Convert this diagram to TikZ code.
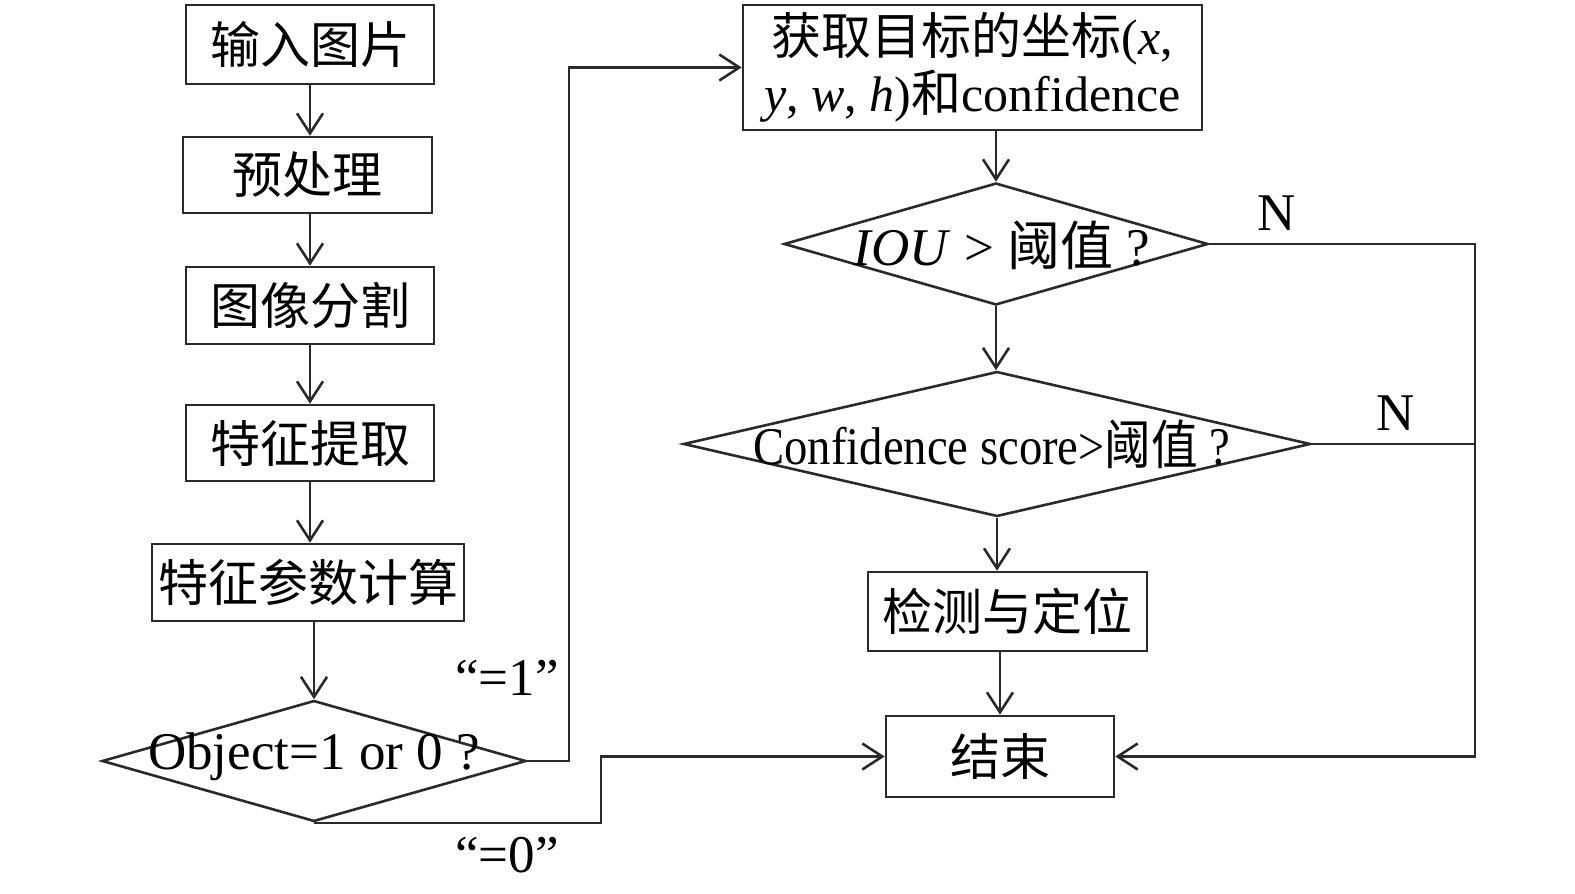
\documentclass[tikz,border=0pt]{standalone}
\usepackage{fontspec}
\usepackage{graphicx}
\setmainfont{Liberation Serif}
\newfontfamily\cjk{Noto Sans CJK SC}
\usetikzlibrary{shapes.geometric,arrows.meta,calc}
\definecolor{linec}{HTML}{2A2A2A}
\tikzset{
  every node/.style={font=\fontsize{50}{57}\selectfont, inner sep=0pt},
  big/.style={font=\fontsize{53}{60}\selectfont},
  box/.style={draw=linec, line width=2.6pt, rectangle, align=center},
  dia/.style={draw=linec, line width=2.6pt, diamond, aspect=1},
  conn/.style={draw=linec, line width=2.6pt, -{Straight Barb[length=20pt,width=26pt,line width=2.6pt]}},
  plain/.style={draw=linec, line width=2.6pt},
}
\begin{document}
\begin{tikzpicture}[x=1pt,y=-1pt]
\useasboundingbox (0,0) rectangle (1575,894);
% left column
\node[box, minimum width=248pt, minimum height=79pt] (in) at (310,44.5) {\cjk 输入图片};
\node[box, minimum width=249pt, minimum height=76pt] (pre) at (307.5,175) {\cjk 预处理};
\node[box, minimum width=248pt, minimum height=77pt] (seg) at (310,305.5) {\cjk 图像分割};
\node[box, minimum width=248pt, minimum height=76pt] (feat) at (310,443) {\cjk 特征提取};
\node[box, minimum width=312pt, minimum height=77pt] (param) at (308,582.5) {\cjk 特征参数计算};
\node[dia, minimum width=424pt, minimum height=121pt] (obj) at (314,761) {};
\node[big] at (314,757) {Object=1 or 0 ?};
% right column
\node[box, minimum width=459pt, minimum height=125pt] (get) at (972.5,67.5)
  {{\cjk 获取目标的坐标}(\textit{x},\\\textit{y}, \textit{w}, \textit{h}){\cjk 和}confidence};
\node[dia, minimum width=424pt, minimum height=122pt] (iou) at (996,244) {};
\node[big] at (1002,245) {\textit{IOU} > {\cjk 阈值} ?};
\node[dia, minimum width=627pt, minimum height=145pt] (conf) at (997,444) {};
\node[big] at (992,444) {\scalebox{0.88}[1]{Confidence score>{\cjk 阈值} ?}};
\node[box, minimum width=279pt, minimum height=79pt] (det) at (1007.5,611.5) {\cjk 检测与定位};
\node[box, minimum width=228pt, minimum height=81pt] (end) at (1000,756.5) {\cjk 结束};
% labels
\node[big] (l1) at (507,678) {“=1”};
\node[big] (l0) at (507,855) {“=0”};
\node[big] (n1) at (1277,213) {N};
\node[big] (n2) at (1396,413) {N};
\coordinate (r) at (1475,500);
\coordinate (j) at (601,500);
% connectors
\draw[conn] (in.south) -- (in.south |- pre.north);
\draw[conn] (seg.north |- pre.south) -- (seg.north);
\draw[conn] (seg.south) -- (seg.south |- feat.north);
\draw[conn] (feat.south) -- (feat.south |- param.north);
\draw[conn] (obj.north |- param.south) -- (obj.north);
\draw[conn] (obj.east) -- ++(41.5,0) |- (get.west);
\draw[conn] (obj.south) -- (obj.south -| j) |- (end.west);
\draw[conn] (iou.north |- get.south) -- (iou.north);
\draw[conn] (iou.south) -- (iou.south |- conf.north);
\draw[conn] (conf.south) -- (conf.south |- det.north);
\draw[conn] (end.north |- det.south) -- (end.north);
\draw[conn] (iou.east) -| (r |- end.east) -- (end.east);
\draw[plain] (conf.east) -- (conf.east -| r);
\end{tikzpicture}
\end{document}
